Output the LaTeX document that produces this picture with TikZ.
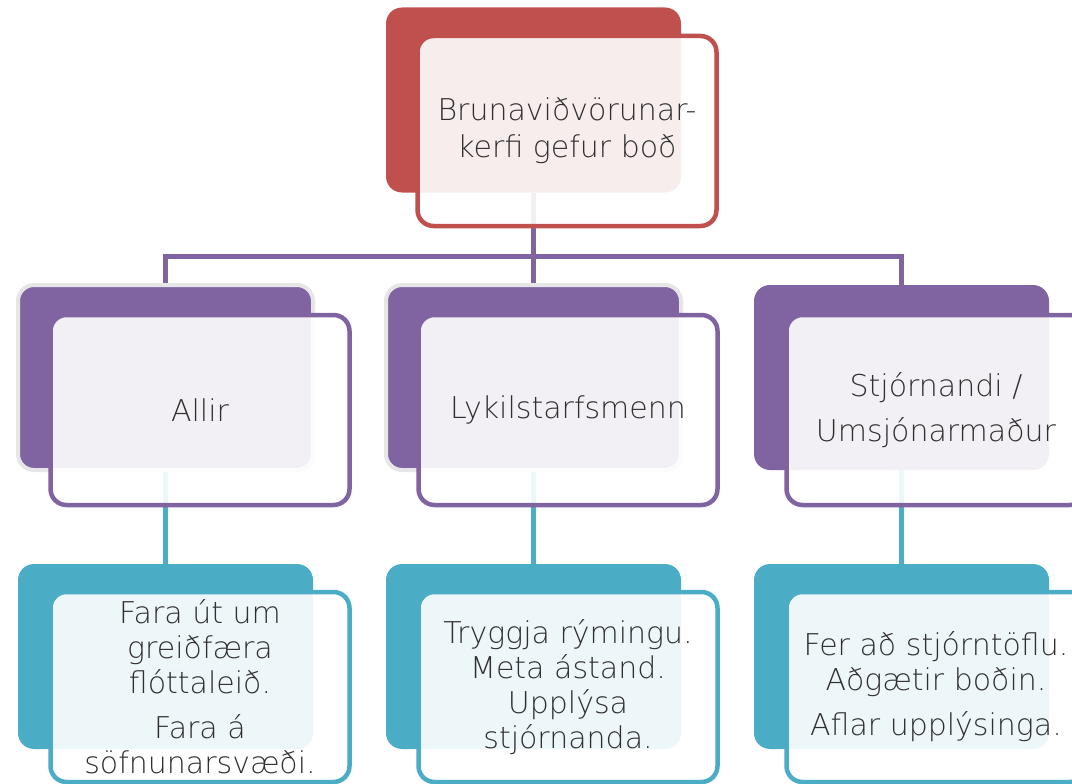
\documentclass[tikz,border=0pt]{standalone}
\usepackage{fontspec}
\setmainfont{DejaVu Sans}[UprightFont=* ExtraLight]
\usepackage{tikz}
\definecolor{accred}{HTML}{C0504D}
\definecolor{accpurple}{HTML}{8064A2}
\definecolor{accteal}{HTML}{4BACC6}
\definecolor{halo}{HTML}{E6E6E6}
\definecolor{txtgray}{HTML}{303030}

\begin{document}
\begin{tikzpicture}[
        x=1pt,y=-1pt,
        back/.style={rectangle, rounded corners=16pt, inner sep=0pt,
          minimum width=295pt, minimum height=185pt},
        front/.style={rectangle, rounded corners=16pt, inner sep=0pt, line width=4.5pt,
          fill=white, fill opacity=0.9, text opacity=1, text=txtgray, align=center,
          minimum width=299pt, minimum height=190pt, font=\fontsize{30}{35}\selectfont},
        link/.style={line width=5pt},
        ]
        \useasboundingbox (0,0) rectangle (1072,784);

        % coloured back boxes
        \node[back, fill=accred]                                   (top_back)   at (533.5,100)   {};
        \node[back, fill=accpurple, draw=halo, line width=4pt]     (mid_back_1) at (165.5,377.5) {};
        \node[back, fill=accpurple, draw=halo, line width=4pt]     (mid_back_2) at (533.5,377.5) {};
        \node[back, fill=accpurple]                                (mid_back_3) at (901.5,377.5) {};
        \node[back, fill=accteal]                                  (bot_back_1) at (165.5,656.5) {};
        \node[back, fill=accteal]                                  (bot_back_2) at (533.5,656.5) {};
        \node[back, fill=accteal]                                  (bot_back_3) at (901.5,656.5) {};

        % connectors
        \coordinate (bus) at (533.5,256);
        \draw[link, accpurple] (top_back.south) -- (bus);
        \foreach \i in {1,2,3}{
          \draw[link, accpurple] (bus) -| (mid_back_\i.north);
          \draw[link, accteal] (mid_back_\i.south) -- (bot_back_\i.north);
        }

        % front boxes with text
        \node[front, draw=accred, font=\fontsize{30}{37}\selectfont]
          (top) at ([shift={(33.5,31)}]top_back.center) {Brunaviðvörunar-\\kerfi gefur boð};
        \node[front, draw=accpurple] (mid_1) at ([shift={(34.5,32.5)}]mid_back_1.center) {Allir};
        \node[front, draw=accpurple] (mid_2) at ([shift={(34.5,32.5)}]mid_back_2.center) {Lykilstarfsmenn};
        \node[front, draw=accpurple] (mid_3) at ([shift={(34.5,32.5)}]mid_back_3.center) {Stjórnandi /\\[10pt]Umsjónarmaður};
        \node[front, draw=accteal] (bot_1) at ([shift={(34.5,30.5)}]bot_back_1.center)
          {Fara út um\\greiðfæra\\flóttaleið.\\[10pt]Fara á\\söfnunarsvæði.};
        \node[front, draw=accteal] (bot_2) at ([shift={(34.5,30.5)}]bot_back_2.center)
          {Tryggja rýmingu.\\Meta ástand.\\Upplýsa\\stjórnanda.};
        \node[front, draw=accteal] (bot_3) at ([shift={(34.5,30.5)}]bot_back_3.center)
          {Fer að stjórntöflu.\\Aðgætir boðin.\\[10pt]Aflar upplýsinga.};
\end{tikzpicture}
\end{document}
